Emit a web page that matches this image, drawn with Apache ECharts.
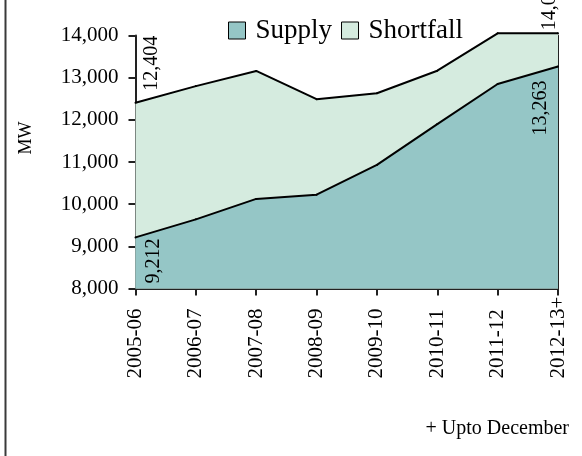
<!DOCTYPE html>
<html>
<head>
<meta charset="utf-8">
<script src="https://cdn.jsdelivr.net/npm/echarts@6/dist/echarts.min.js"></script>
<style>
  html, body { margin: 0; padding: 0; background: #fff; }
  #chart { width: 582px; height: 456px; }
</style>
</head>
<body>
<div id="chart"></div>
<script>
// fiscal years on the x axis
const years = ['2005-06', '2006-07', '2007-08', '2008-09', '2009-10', '2010-11', '2011-12', '2012-13+']
// peak power supplied (MW)
const supply = [9212, 9640, 10125, 10225, 10930, 11900, 12850, 13263]
// peak demand (MW) = supply + shortfall
const demand = [12404, 12800, 13160, 12490, 12630, 13165, 14052, 14052]
const yTicks = [8000, 9000, 10000, 11000, 12000, 13000, 14000]

const SERIF = '"Liberation Serif", "Times New Roman", serif'
const SUPPLY_COLOR = '#95c6c6'
const SHORTFALL_COLOR = '#d5ebdf'

// which points carry a value label, and where (relative to the point)
const demandLabels = {0: {pos: [17, -11], align: 'left'}, 7: {pos: [-7, -2], align: 'left'}}
const supplyLabels = {0: {pos: [19, 2], align: 'right'}, 7: {pos: [-16, 15], align: 'right'}}

function withLabels(values, spec){
  return values.map((v, i) => {
    if(!spec[i]) return v
    return {
      value: v,
      label: {
        show: true,
        position: spec[i].pos,
        rotate: 90,
        align: spec[i].align,
        verticalAlign: 'middle',
        fontFamily: SERIF,
        fontSize: 20,
        color: '#000',
        formatter: p => p.value.toLocaleString('en-US')
      }
    }
  })
}

let chart = echarts.init(document.getElementById('chart'))
let chartOpt = {
  animation: false,
  backgroundColor: '#fff',
  grid: {
    left: 135.5,
    right: 24,
    top: 35.5,
    bottom: 167.5
  },
  title: {
    text: '+ Upto December',
    right: 8,
    top: 414,
    textStyle: {
      fontFamily: SERIF,
      fontSize: 20,
      fontWeight: 'normal',
      color: '#000'
    }
  },
  legend: {
    left: 223,
    top: 12,
    icon: 'rect',
    itemWidth: 17,
    itemHeight: 17,
    itemGap: 9,
    textStyle: {
      fontFamily: SERIF,
      fontSize: 27,
      color: '#000',
      padding: [0, 0, 0, 5]
    },
    data: [
      {name: 'Supply', itemStyle: {color: SUPPLY_COLOR, borderColor: '#000', borderWidth: 1}},
      {name: 'Shortfall', itemStyle: {color: SHORTFALL_COLOR, borderColor: '#000', borderWidth: 1}}
    ]
  },
  xAxis: {
    type: 'category',
    boundaryGap: false,
    data: years,
    axisLine: {lineStyle: {color: '#222', width: 2}},
    axisTick: {show: true, inside: false, length: 7, lineStyle: {color: '#222', width: 2}},
    axisLabel: {
      rotate: 90,
      align: 'left',
      verticalAlign: 'middle',
      margin: 90,
      interval: 0,
      fontFamily: SERIF,
      fontSize: 21,
      color: '#000'
    },
    splitLine: {show: false}
  },
  yAxis: [{
    type: 'value',
    min: yTicks[0],
    max: yTicks[yTicks.length - 1],
    interval: 1000,
    name: 'MW',
    nameLocation: 'middle',
    nameRotate: 90,
    nameGap: 100,
    nameTextStyle: {
      fontFamily: SERIF,
      fontSize: 18,
      color: '#000',
      padding: [0, 0, 0, 48]
    },
    axisLine: {show: true, lineStyle: {color: '#222', width: 2}},
    axisTick: {show: true, inside: false, length: 7, lineStyle: {color: '#222', width: 2}},
    axisLabel: {
      margin: 17,
      fontFamily: SERIF,
      fontSize: 21,
      color: '#000',
      formatter: v => v.toLocaleString('en-US')
    },
    splitLine: {show: false}
  }, {
    type: 'value',
    position: 'right',
    min: yTicks[0],
    max: yTicks[yTicks.length - 1],
    interval: 1000,
    axisLine: {show: true, lineStyle: {color: '#222', width: 2}},
    axisTick: {show: false},
    axisLabel: {show: false},
    splitLine: {show: false}
  }],
  graphic: [{
    type: 'line',
    shape: {x1: 5.5, y1: 0, x2: 5.5, y2: 456},
    style: {stroke: '#3a3a3a', lineWidth: 2},
    silent: true
  }],
  series: [{
    name: 'Shortfall',
    type: 'line',
    clip: false,
    data: withLabels(demand, demandLabels),
    symbol: 'circle',
    symbolSize: 2,
    itemStyle: {color: '#000'},
    lineStyle: {color: '#000', width: 2},
    areaStyle: {color: SHORTFALL_COLOR, opacity: 1},
    z: 2
  }, {
    name: 'Supply',
    type: 'line',
    clip: false,
    data: withLabels(supply, supplyLabels),
    symbol: 'circle',
    symbolSize: 2,
    itemStyle: {color: '#000'},
    lineStyle: {color: '#000', width: 2},
    areaStyle: {color: SUPPLY_COLOR, opacity: 1},
    z: 3
  }]
}

chart.setOption(chartOpt)
</script>
</body>
</html>
